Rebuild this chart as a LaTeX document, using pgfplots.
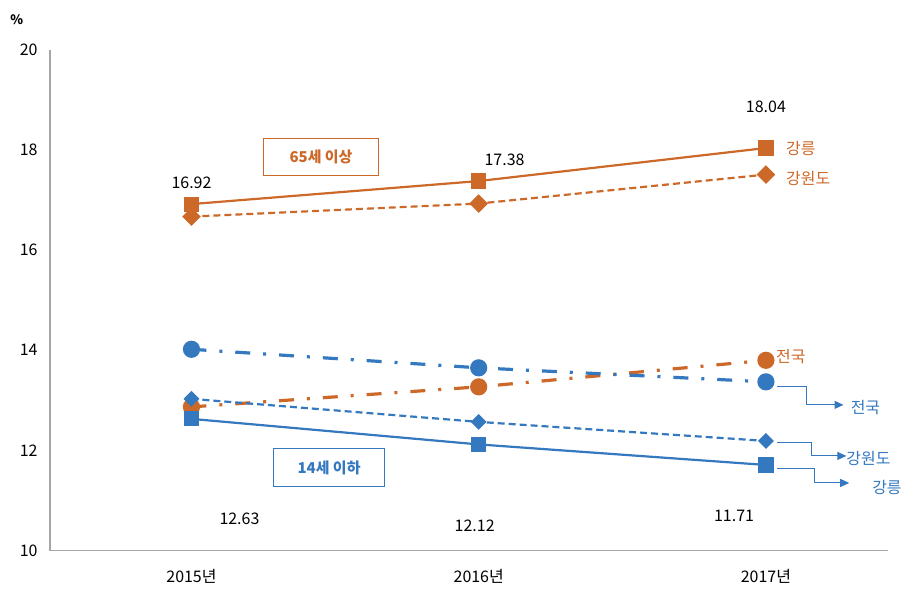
\documentclass[border=0pt]{standalone}
\usepackage{fontspec}
\setmainfont{Noto Sans CJK KR}
\usepackage{pgfplots}
\pgfplotsset{compat=1.18}
\usetikzlibrary{arrows.meta}
\definecolor{org}{RGB}{204,104,40}
\definecolor{blu}{RGB}{52,120,192}
\definecolor{axgray}{RGB}{166,166,166}
\begin{document}
\begin{tikzpicture}[font=\fontsize{16pt}{19pt}\selectfont]
\begin{axis}[
  scale only axis, width=840pt, height=502pt,
  xmin=-0.493, xmax=2.424, ymin=10, ymax=20,
  axis x line=bottom, axis y line=left,
  axis line style={-, axgray, line width=1.5pt},
  xtick={0,1,2}, xticklabels={2015년,2016년,2017년},
  ytick={10,12,...,20},
  major tick length=0pt,
  /pgf/number format/assume math mode=true,
  xticklabel style={yshift=-14pt},
  yticklabel style={xshift=-8pt},
  clip=false,
  line width=2.2pt,
]
% 65세 이상
\addplot[org, solid, mark=square*, mark size=6.5pt] coordinates {(0,16.92)(1,17.38)(2,18.04)};
\addplot[org, dash pattern=on 7pt off 4pt, mark=square*, mark size=5.5pt, mark options={solid, rotate=45}] coordinates {(0,16.67)(1,16.93)(2,17.51)};
\addplot[org, line width=3.2pt, dash pattern=on 15pt off 13pt on 3pt off 13pt, mark=*, mark size=7pt, mark options={solid}] coordinates {(0,12.87)(1,13.27)(2,13.80)};
% 14세 이하
\addplot[blu, line width=3.2pt, dash pattern=on 15pt off 13pt on 3pt off 13pt, mark=*, mark size=7pt, mark options={solid}] coordinates {(0,14.02)(1,13.65)(2,13.37)};
\addplot[blu, dash pattern=on 7pt off 4pt, mark=square*, mark size=4.5pt, mark options={solid, rotate=45}] coordinates {(0,13.03)(1,12.57)(2,12.19)};
\addplot[blu, solid, mark=square*, mark size=6.5pt] coordinates {(0,12.63)(1,12.12)(2,11.71)};

% data labels
\node at (axis cs:0,17.35) {16.92};
\node at (axis cs:1.09,17.81) {17.38};
\node at (axis cs:2,18.86) {18.04};
\node at (axis cs:0.167,10.64) {12.63};
\node at (axis cs:0.986,10.50) {12.12};
\node at (axis cs:1.889,10.70) {11.71};

% group boxes
\node[draw=org, line width=1pt, text=org, font=\fontsize{15pt}{17pt}\selectfont\bfseries, minimum width=115pt, minimum height=38pt] at (axis cs:0.451,17.86) {65세 이상};
\node[draw=blu, line width=1pt, text=blu, font=\fontsize{15pt}{17pt}\selectfont\bfseries, minimum width=112pt, minimum height=38pt] at (axis cs:0.479,11.66) {14세 이하};

% series labels
\node[text=org, anchor=west] at (axis cs:2.055,18.03) {강릉};
\node[text=org, anchor=west] at (axis cs:2.055,17.44) {강원도};
\node[text=org, anchor=west] at (axis cs:2.02,13.87) {전국};

\draw[blu, line width=1pt, -{Triangle[length=9pt,width=8pt]}] (axis cs:2.04,13.28) -| (axis cs:2.14,12.91) -- (axis cs:2.27,12.91);
\node[text=blu, anchor=west] at (axis cs:2.28,12.86) {전국};
\draw[blu, line width=1pt, -{Triangle[length=9pt,width=8pt]}] (axis cs:2.04,12.16) -| (axis cs:2.16,11.89) -- (axis cs:2.28,11.89);
\node[text=blu, anchor=west] at (axis cs:2.265,11.84) {강원도};
\draw[blu, line width=1pt, -{Triangle[length=9pt,width=8pt]}] (axis cs:2.04,11.63) -| (axis cs:2.17,11.35) -- (axis cs:2.29,11.35);
\node[text=blu, anchor=west] at (axis cs:2.355,11.25) {강릉};

% unit
\node[font=\fontsize{13pt}{15pt}\selectfont\bfseries] at (axis cs:-0.608,20.6) {\%};
\end{axis}
\path[use as bounding box] (-50pt,-46pt) rectangle (855pt,552pt);
\end{tikzpicture}
\end{document}
